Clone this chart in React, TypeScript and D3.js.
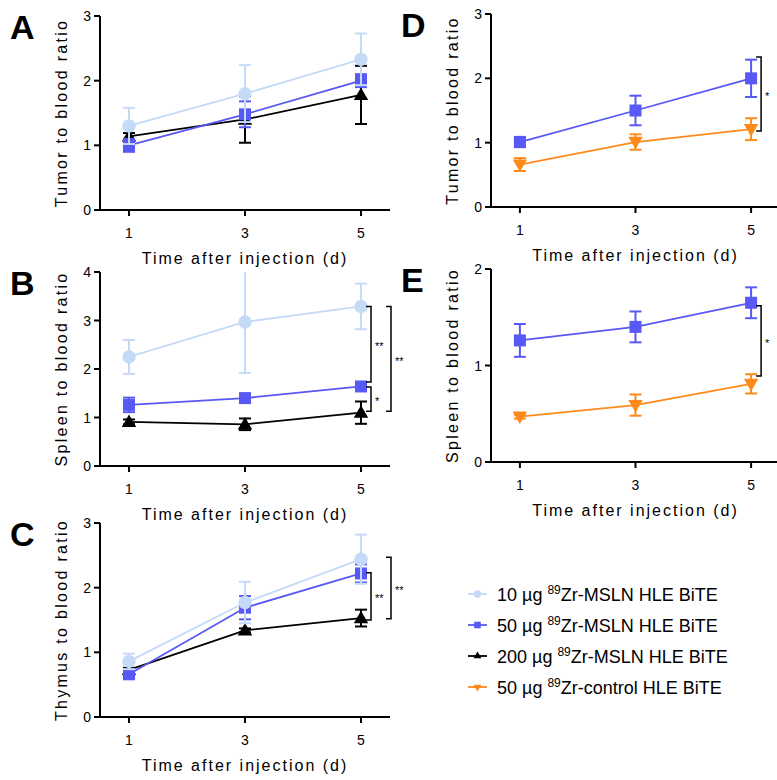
import React from "react";
import * as d3 from "d3";

// days after injection
const days = [1, 3, 5];

// A: tumor, B: spleen, C: thymus (10 / 50 / 200 µg MSLN)
const tumorA10 = [1.3, 1.8, 2.33];
const tumorA10Err = [0.28, 0.44, 0.4];
const tumorA50 = [1.0, 1.48, 2.0];
const tumorA50Err = [0.1, 0.2, 0.1];
const tumorA200 = [1.14, 1.4, 1.78];
const tumorA200Err = [0.05, 0.36, 0.45];

const spleenB10 = [2.25, 2.97, 3.29];
const spleenB10Err = [0.35, 1.05, 0.47];
const spleenB50 = [1.26, 1.4, 1.64];
const spleenB50Err = [0.15, 0.08, 0.08];
const spleenB200 = [0.91, 0.86, 1.1];
const spleenB200Err = [0.05, 0.12, 0.23];

const thymusC10 = [0.86, 1.77, 2.44];
const thymusC10Err = [0.12, 0.32, 0.38];
const thymusC50 = [0.66, 1.69, 2.22];
const thymusC50Err = [0.05, 0.18, 0.14];
const thymusC200 = [0.73, 1.34, 1.53];
const thymusC200Err = [0.03, 0.03, 0.13];

// D: tumor, E: spleen (50 µg MSLN vs 50 µg control)
const tumorD50 = [1.01, 1.5, 2.0];
const tumorD50Err = [0.08, 0.23, 0.29];
const tumorDCtrl = [0.66, 1.01, 1.21];
const tumorDCtrlErr = [0.1, 0.12, 0.17];

const spleenE50 = [1.26, 1.4, 1.65];
const spleenE50Err = [0.17, 0.16, 0.16];
const spleenECtrl = [0.47, 0.59, 0.81];
const spleenECtrlErr = [0.02, 0.11, 0.1];

// significance brackets: [from, to, label, column]
const bracketsB = [
  [3.29, 1.73, "**", 0],
  [1.63, 1.13, "*", 0],
  [3.29, 1.13, "**", 1],
];
const bracketsC = [
  [2.23, 1.5, "**", 0],
  [2.47, 1.52, "**", 1],
];
const bracketsD = [[2.33, 1.18, "*", 0]];
const bracketsE = [[1.62, 0.89, "*", 0]];

const legendLabels = [
  ["10 µg ", "89", "Zr-MSLN HLE BiTE"],
  ["50 µg ", "89", "Zr-MSLN HLE BiTE"],
  ["200 µg ", "89", "Zr-MSLN HLE BiTE"],
  ["50 µg ", "89", "Zr-control HLE BiTE"],
];

const LIGHT = "#c4daf6";
const BLUE = "#5858f4";
const BLACK = "#000";
const ORANGE = "#ff8a1c";

const FONT = "'Liberation Sans', Arial, Helvetica, sans-serif";

const markerPath = (kind, big = true) => {
  const k = big ? 1 : 0.3;
  if (kind === "circle") return d3.symbol(d3.symbolCircle, 140 * k)();
  if (kind === "square") return d3.symbol(d3.symbolSquare, 144 * k)();
  return d3.symbol(d3.symbolTriangle, 90 * k)();
};

const Panel = ({ letter, left, right, top, bottom, yMax, yTitle, series, brackets }) => {
  const x = d3.scaleLinear().domain([0.5, 5.5]).range([left, right]);
  const y = d3.scaleLinear().domain([0, yMax]).range([bottom, top]);
  const yTicks = d3.range(0, yMax + 1);
  const line = d3
    .line()
    .x((d) => x(d[0]))
    .y((d) => y(d[1]));
  const bx = [x(5) + 10, x(5) + 30];

  return (
    <g fontFamily={FONT}>
      <text x={left - 90} y={top + 23} fontSize={34} fontWeight="bold">
        {letter}
      </text>
      {/* y axis */}
      <line x1={left} x2={left} y1={top} y2={bottom} stroke="#000" strokeWidth={2} />
      {yTicks.map((t) => (
        <g key={t}>
          <line x1={left - 6} x2={left} y1={y(t)} y2={y(t)} stroke="#000" strokeWidth={2} />
          <text x={left - 9} y={y(t) + 5} fontSize={14} textAnchor="end">
            {t}
          </text>
        </g>
      ))}
      <text
        transform={`translate(${left - 33},${(top + bottom) / 2}) rotate(-90)`}
        fontSize={16}
        letterSpacing={2.3}
        textAnchor="middle"
      >
        {yTitle}
      </text>
      {/* x axis */}
      <line x1={left} x2={right} y1={bottom} y2={bottom} stroke="#000" strokeWidth={2} />
      {days.map((d) => (
        <g key={d}>
          <line x1={x(d)} x2={x(d)} y1={bottom} y2={bottom + 6} stroke="#000" strokeWidth={2} />
          <text x={x(d)} y={bottom + 28} fontSize={14} textAnchor="middle">
            {d}
          </text>
        </g>
      ))}
      <text x={x(3)} y={bottom + 54} fontSize={16} letterSpacing={2} textAnchor="middle">
        Time after injection (d)
      </text>
      {/* series */}
      {series.map((s, si) => {
        const pts = days.map((d, i) => [d, s.values[i]]);
        return (
          <g key={si}>
            <path d={line(pts)} fill="none" stroke={s.color} strokeWidth={1.8} />
            {pts.map((p, i) => {
              const lo = y(s.values[i] - s.err[i]);
              const hi = y(s.values[i] + s.err[i]);
              const cx = x(p[0]);
              return (
                <g key={i} stroke={s.color} strokeWidth={2}>
                  <line x1={cx} x2={cx} y1={Math.max(hi, top)} y2={lo} />
                  {hi >= top && <line x1={cx - 6} x2={cx + 6} y1={hi} y2={hi} />}
                  <line x1={cx - 6} x2={cx + 6} y1={lo} y2={lo} />
                </g>
              );
            })}
            {pts.map((p, i) => (
              <path
                key={"m" + i}
                d={markerPath(s.marker)}
                transform={`translate(${x(p[0])},${y(p[1]) + (s.marker === "triangle" ? 1 : s.marker === "down" ? -1 : 0)}) rotate(${s.marker === "down" ? 180 : 0})`}
                fill={s.color}
              />
            ))}
          </g>
        );
      })}
      {/* brackets */}
      {brackets.map((b, i) => {
        const bxx = bx[b[3]];
        const y1 = y(b[0]);
        const y2 = y(b[1]);
        return (
          <g key={"b" + i}>
            <path
              d={`M${bxx - 5},${y1}H${bxx}V${y2}H${bxx - 5}`}
              fill="none"
              stroke="#000"
              strokeWidth={1.5}
            />
            <text x={bxx + 4} y={(y1 + y2) / 2 + 6} fontSize={11}>
              {b[2]}
            </text>
          </g>
        );
      })}
    </g>
  );
};

const App = () => {
  const s10 = (v, e) => ({ values: v, err: e, color: LIGHT, marker: "circle" });
  const s50 = (v, e) => ({ values: v, err: e, color: BLUE, marker: "square" });
  const s200 = (v, e) => ({ values: v, err: e, color: BLACK, marker: "triangle" });
  const sCtrl = (v, e) => ({ values: v, err: e, color: ORANGE, marker: "down" });

  const legendSeries = [
    { color: LIGHT, marker: "circle" },
    { color: BLUE, marker: "square" },
    { color: BLACK, marker: "triangle" },
    { color: ORANGE, marker: "down" },
  ];

  return (
    <svg
      width={777}
      height={780}
      style={{ position: "absolute", left: 0, top: 0, background: "#fff" }}
    >
      <rect width={777} height={780} fill="#fff" />
      <Panel
        letter="A"
        left={100}
        right={390}
        top={16}
        bottom={210}
        yMax={3}
        yTitle="Tumor to blood ratio"
        series={[s200(tumorA200, tumorA200Err), s50(tumorA50, tumorA50Err), s10(tumorA10, tumorA10Err)]}
        brackets={[]}
      />
      <Panel
        letter="B"
        left={100}
        right={390}
        top={272}
        bottom={466}
        yMax={4}
        yTitle="Spleen to blood ratio"
        series={[s200(spleenB200, spleenB200Err), s50(spleenB50, spleenB50Err), s10(spleenB10, spleenB10Err)]}
        brackets={bracketsB}
      />
      <Panel
        letter="C"
        left={100}
        right={390}
        top={523}
        bottom={717}
        yMax={3}
        yTitle="Thymus to blood ratio"
        series={[s200(thymusC200, thymusC200Err), s50(thymusC50, thymusC50Err), s10(thymusC10, thymusC10Err)]}
        brackets={bracketsC}
      />
      <Panel
        letter="D"
        left={491}
        right={780}
        top={14}
        bottom={207}
        yMax={3}
        yTitle="Tumor to blood ratio"
        series={[sCtrl(tumorDCtrl, tumorDCtrlErr), s50(tumorD50, tumorD50Err)]}
        brackets={bracketsD}
      />
      <Panel
        letter="E"
        left={491}
        right={780}
        top={269}
        bottom={462}
        yMax={2}
        yTitle="Spleen to blood ratio"
        series={[sCtrl(spleenECtrl, spleenECtrlErr), s50(spleenE50, spleenE50Err)]}
        brackets={bracketsE}
      />
      {/* legend */}
      <g fontFamily={FONT}>
        {legendLabels.map((l, i) => {
          const ly = 594 + i * 31;
          const s = legendSeries[i];
          return (
            <g key={i}>
              <line x1={468} x2={487} y1={ly} y2={ly} stroke={s.color} strokeWidth={1.8} />
              <path
                d={markerPath(s.marker, false)}
                transform={`translate(477.5,${ly}) rotate(${s.marker === "down" ? 180 : 0})`}
                fill={s.color}
              />
              <text x={497} y={ly + 6.5} fontSize={18}>
                {l[0]}
                <tspan fontSize={12} dy={-7}>
                  {l[1]}
                </tspan>
                <tspan dy={7}>{l[2]}</tspan>
              </text>
            </g>
          );
        })}
      </g>
    </svg>
  );
};

export default App;
